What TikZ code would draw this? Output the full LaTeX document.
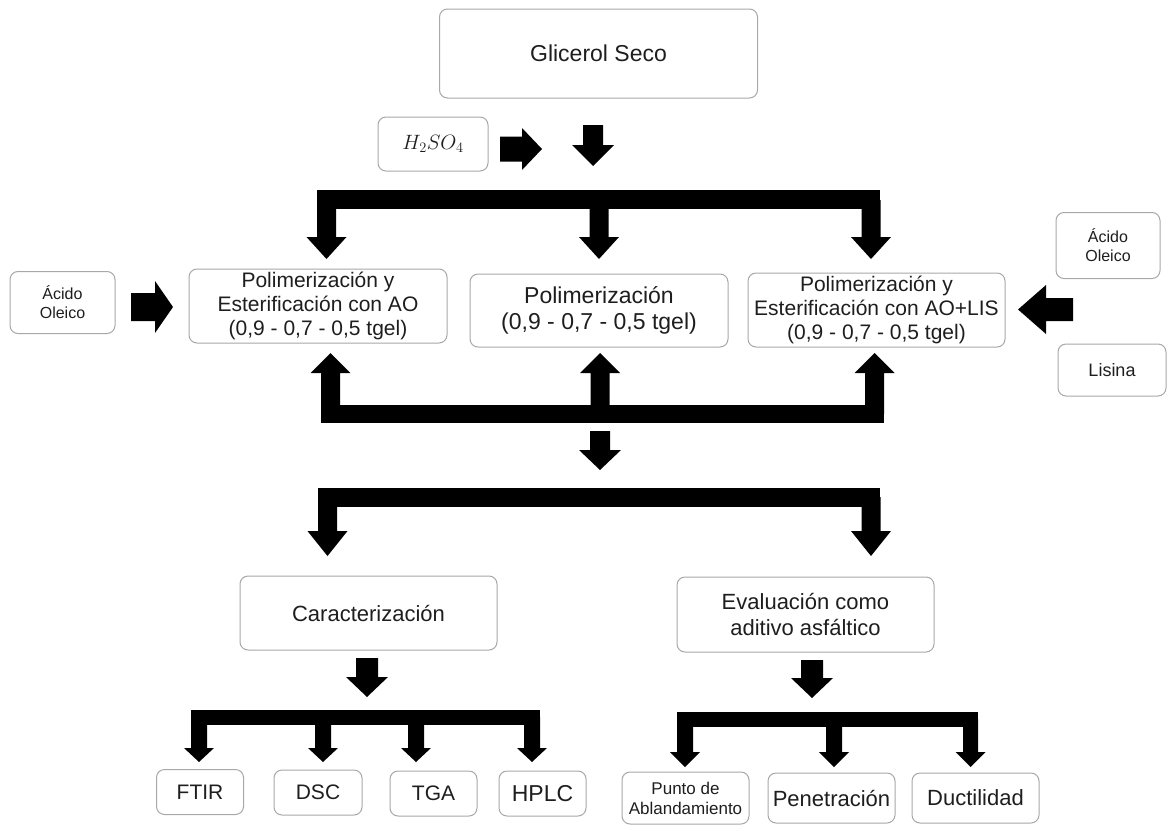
\documentclass[tikz,border=0pt]{standalone}
\usepackage{fontspec}
\setmainfont{Liberation Sans}
\definecolor{boxline}{HTML}{A8A8A8}
\definecolor{txt}{HTML}{1E1E1E}
\newcommand\fsz[2]{\fontsize{#1}{#2}\selectfont}
% vertical block arrow: xc, ytop, yhead, ytip, shaft half width, head half width
\newcommand\ArrV[6]{\fill[black] ({#1-#5},#2) -- ({#1+#5},#2) -- ({#1+#5},#3) -- ({#1+#6},#3) -- (#1,#4) -- ({#1-#6},#3) -- ({#1-#5},#3) -- cycle;}
% horizontal block arrow: yc, xstart, xhead, xtip, shaft half width, head half width
\newcommand\ArrH[6]{\fill[black] (#2,{#1-#5}) -- (#2,{#1+#5}) -- (#3,{#1+#5}) -- (#3,{#1+#6}) -- (#4,#1) -- (#3,{#1-#6}) -- (#3,{#1-#5}) -- cycle;}
\tikzset{
  box/.style={draw=boxline, line width=1pt, rounded corners=8pt, fill=white,
    inner sep=0pt, align=center, text=txt},
}
\begin{document}
\begin{tikzpicture}[x=1pt,y=-1pt]
\useasboundingbox[fill=white] (0,0) rectangle (1173,825);
% nodes
\node[box, minimum width=318pt, minimum height=89pt, font=\fsz{23}{27}] (glic) at (598.5,53.5) {Glicerol Seco};
\node[box, minimum width=110pt, minimum height=54pt, font=\fsz{20}{23}] (acid) at (433,144) {$H_2SO_4$};
\node[box, minimum width=105pt, minimum height=62pt, font=\fsz{16}{19}] (aoL) at (62.5,302.5) {Ácido\\Oleico};
\node[box, minimum width=258pt, minimum height=74pt, font=\fsz{21}{24}] (p1) at (318,306) {Polimerización y\\Esterificación con AO\\(0,9 - 0,7 - 0,5 tgel)};
\node[box, minimum width=258pt, minimum height=73pt, font=\fsz{23}{26}] (p2) at (599,310.5) {Polimerización\\(0,9 - 0,7 - 0,5 tgel)};
\node[box, minimum width=257pt, minimum height=74pt, font=\fsz{21}{24}] (p3) at (876.5,310) {Polimerización y\\Esterificación con AO+LIS\\(0,9 - 0,7 - 0,5 tgel)};
\node[box, minimum width=104pt, minimum height=66pt, font=\fsz{16}{19}] (aoR) at (1108,245.5) {Ácido\\Oleico};
\node[box, minimum width=108pt, minimum height=52pt, font=\fsz{18}{21}] (lis) at (1112,370) {Lisina};
\node[box, minimum width=257pt, minimum height=74pt, font=\fsz{22}{26}] (car) at (368.5,613) {Caracterización};
\node[box, minimum width=257pt, minimum height=75pt, font=\fsz{22}{26}] (eva) at (805.5,614.5) {Evaluación como\\aditivo asfáltico};
\node[box, minimum width=87pt, minimum height=45pt, font=\fsz{21}{24}] (ftir) at (200,792) {FTIR};
\node[box, minimum width=88pt, minimum height=45pt, font=\fsz{21}{24}] (dsc) at (318,792.5) {DSC};
\node[box, minimum width=87pt, minimum height=45pt, font=\fsz{21}{24}] (tga) at (433.5,793.5) {TGA};
\node[box, minimum width=87pt, minimum height=45pt, font=\fsz{23}{26}] (hplc) at (542.5,793.5) {HPLC};
\node[box, minimum width=127pt, minimum height=52pt, font=\fsz{17}{20}] (pa) at (685.5,798) {Punto de\\Ablandamiento};
\node[box, minimum width=127pt, minimum height=50pt, font=\fsz{22}{26}] (pen) at (831.5,798) {Penetración};
\node[box, minimum width=127pt, minimum height=50pt, font=\fsz{22}{26}] (duc) at (975.5,798) {Ductilidad};
% block arrows
\ArrH{149}{500}{522}{542}{12.5}{21}
\ArrV{593}{125}{145}{166}{10}{21}
% top bracket
\fill[black] (317,190) rectangle (880,209);
\ArrV{326.5}{200}{237}{259}{9.5}{20}
\ArrV{599}{200}{237}{259}{9.5}{20}
\ArrV{871}{200}{237}{259}{9.5}{20}
% side arrows
\ArrH{307}{131}{155}{173}{14}{26}
\ArrH{309.5}{1073}{1046}{1018}{11.5}{24.5}
% bottom bracket (up arrows)
\fill[black] (321,405) rectangle (884,423);
\ArrV{330.5}{414}{373}{353}{9.5}{20}
\ArrV{600}{414}{373}{353}{9.5}{20}
\ArrV{874.5}{414}{373}{353}{9.5}{20}
\ArrV{600}{431}{450}{470}{10}{21}
% second bracket
\fill[black] (318,488) rectangle (880,507);
\ArrV{327.5}{497}{531}{556}{9.5}{20}
\ArrV{871}{497}{531}{556}{9.5}{20}
% down arrows below car / eva
\ArrV{367}{658}{677}{697}{11}{21}
\ArrV{812}{660}{678}{698}{11}{21}
% bottom-left bracket
\fill[black] (191,710) rectangle (540,725);
\ArrV{199}{717}{748}{762}{8}{15}
\ArrV{323}{717}{748}{762}{8}{15}
\ArrV{416}{717}{748}{762}{8}{15}
\ArrV{532}{717}{748}{762}{8}{15}
% bottom-right bracket
\fill[black] (677,712) rectangle (978,727);
\ArrV{685}{719}{752}{767}{8}{15}
\ArrV{834}{719}{752}{767}{8}{15}
\ArrV{970.5}{719}{752}{767}{7.5}{15}
\end{tikzpicture}
\end{document}
